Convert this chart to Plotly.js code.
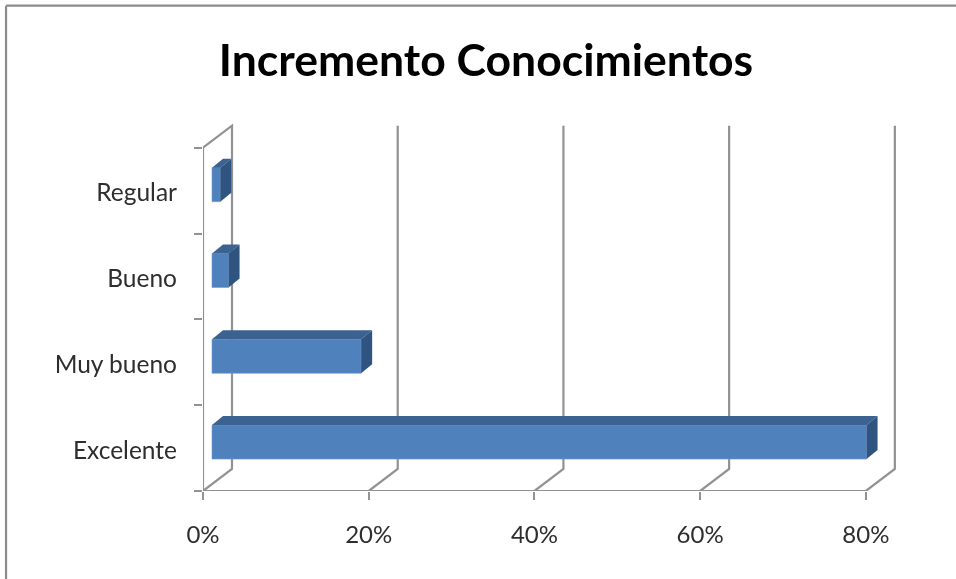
<!DOCTYPE html>
<html><head><meta charset="utf-8">
<script src="https://cdn.plot.ly/plotly-3.0.1.min.js"></script>
<style>html,body{margin:0;padding:0;background:#fff}#chart{width:956px;height:579px;filter:blur(0.45px)}</style>
</head><body><div id="chart"></div>
<script>
const categories = ["Excelente", "Muy bueno", "Bueno", "Regular"];
const values = [79, 18, 2, 1];
const xTicks = [0, 20, 40, 60, 80];
const xTickLabels = ["0%", "20%", "40%", "60%", "80%"];
const chartTitle = "Incremento Conocimientos";

const W = 956, H = 579, L = 203, B = 491;
const pxX = 663 / 80, pxY = 343 / 4;              // px per axis unit
const xMax = 84, yMax = 4.3;                      // room for the 3-D walls
const R = L + xMax * pxX, T = B - yMax * pxY;
const wallDX = 29 / pxX, wallDY = 22 / pxY;       // wall depth
const barDX = 11 / pxX, barDY = 9 / pxY;          // bar depth
const barStart = 9 / pxX;                         // front-face gap from the axis
const barLift = 6 / pxY;                          // front-face lift
const barH = 34 / pxY;
const labelDrop = 2 / pxY;                        // category labels sit slightly low

const FRONT = "#4f81bd", TOP = "#3b6291", SIDE = "#2f5480", GRID = "#929292", TXT = "#2e2e2e";
const centers = categories.map((_, i) => i + 0.5);

// walls, axis lines and gridlines lie beneath the bars
const pathOf = pts => pts.map((p, i) => (i ? "L" : "M") + p[0] + "," + p[1]).join(" ");
const wall = pts => ({type:"path", xref:"x", yref:"y", layer:"below", path:pathOf(pts), line:{color:GRID, width:2.2}});
const shapes = [
  wall([[0, 4], [0, 0], [80, 0]]),
  wall([[0, 0], [wallDX, wallDY], [wallDX, 4 + wallDY], [0, 4]]),
  ...xTicks.slice(1).map(v => wall([[v, 0], [v + wallDX, wallDY], [v + wallDX, 4 + wallDY]])),
  {type:"line", xref:"paper", yref:"paper", x0:(6 - L)/(R - L), x1:(W + 5 - L)/(R - L), y0:(B - 6)/(B - T), y1:(B - 6)/(B - T), line:{color:"#8c8c8c", width:2.2}},
  {type:"line", xref:"paper", yref:"paper", x0:(6 - L)/(R - L), x1:(6 - L)/(R - L), y0:(B - 6)/(B - T), y1:(B - H - 5)/(B - T), line:{color:"#8c8c8c", width:2.2}}
];

const traces = [];
// bar front faces
traces.push({type:"bar", orientation:"h", x:values, y:centers.map(c => c + barLift), base:barStart,
  width:barH, marker:{color:FRONT, line:{color:"#6d9bd3", width:0.6}},
  showlegend:false, hovertemplate:"%{x}%<extra></extra>"});

// top and side faces
const face = (x, y, color) => traces.push({type:"scatter", mode:"lines", x, y, fill:"toself", fillcolor:color,
  line:{width:0, color:color}, hoverinfo:"skip", showlegend:false});
values.forEach((v, i) => {
  const x0 = barStart, x1 = barStart + v;
  const y0 = centers[i] + barLift - barH / 2, y1 = y0 + barH;
  face([x0, x1, x1 + barDX, x0 + barDX, x0], [y1, y1, y1 + barDY, y1 + barDY, y1], TOP);
  face([x1, x1 + barDX, x1 + barDX, x1, x1], [y0, y0 + barDY, y1 + barDY, y1, y0], SIDE);
});

const layout = {
  width:W, height:H, autosize:false, showlegend:false,
  paper_bgcolor:"#fff", plot_bgcolor:"rgba(0,0,0,0)",
  margin:{l:L, r:W - R, t:T, b:H - B, pad:0},
  font:{family:"Lato, Carlito, sans-serif", color:TXT, size:24},
  title:{text:chartTitle, font:{family:"Lato, sans-serif", size:44.5, weight:700, color:"#000"},
    x:486/W, xanchor:"center", y:1 - 60/H, yanchor:"middle"},
  xaxis:{range:[0, xMax], tickmode:"array", tickvals:xTicks, ticktext:xTickLabels, ticks:"outside", ticklen:8,
    tickwidth:2.2, tickcolor:GRID, showline:false, showgrid:false, zeroline:false,
    tickfont:{size:24, color:TXT}, ticklabelstandoff:14, fixedrange:true},
  yaxis:{range:[0, yMax], tickmode:"array", tickvals:centers.map(c => c - labelDrop), ticktext:categories, ticks:"", showline:false,
    showgrid:false, zeroline:false, tickfont:{size:24.5, color:TXT},
    ticklabelstandoff:25, fixedrange:true,
    minor:{tickmode:"array", tickvals:[0,1,2,3,4], ticks:"outside", ticklen:8, tickwidth:2.2, tickcolor:GRID, showgrid:false}},
  shapes
};
Plotly.newPlot("chart", traces, layout, {displayModeBar:false, responsive:false});
</script></body></html>
